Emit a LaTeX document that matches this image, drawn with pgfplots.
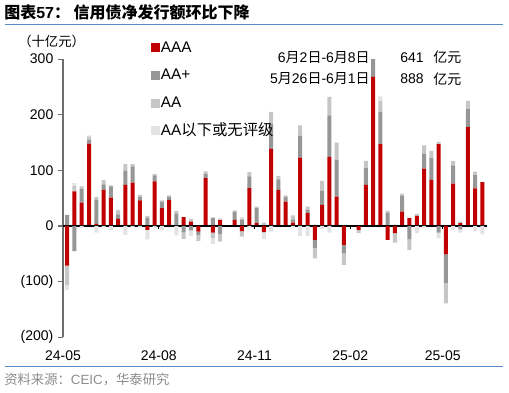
\documentclass[border=0pt]{standalone}
\usepackage{fontspec}
\setmainfont{Liberation Sans}
\newfontfamily\cjk{Noto Sans CJK SC}
\usepackage{pgfplots}
\pgfplotsset{compat=1.18}
\usepackage{pgfplotstable}
\definecolor{cA}{HTML}{C00000}
\definecolor{cB}{HTML}{969696}
\definecolor{cC}{HTML}{C6C6C6}
\definecolor{cD}{HTML}{E3E3E3}
\definecolor{tblue}{HTML}{5B8CC8}
\definecolor{axgray}{HTML}{6E6E6E}
\definecolor{srcgray}{HTML}{8C8C8C}

% d = days since 2024-05-01 (week end); a = AAA, b = AA+, c = AA, e = AA below / unrated (10 bn yuan)
\pgfplotstableread{
d a b c e
4 -71 20 -35 -9
11 62 -45 10 5
18 42 25 4 -3
25 148 7 5 3
32 4 43 5 -12
39 65 10 8 -3
46 51 20 2 -7
53 13 8 7 2
60 74 25 12 -16
67 78 29 4 -3
74 46 6 4 -3
81 -7 15 3 -17
88 80 11 2 -3
95 32 11 3 -8
102 47 6 2 0
109 0 22 5 -17
116 16 -11 -12 0
123 8 -8 5 -10
130 -10 -6 -11 2
137 86 8 4 0
144 -12 15 -10 -10
151 11 -15 -13 3
158 0 0 0 0
165 11 15 2 0
172 -9 12 -10 4
179 68 21 8 -3
186 5 27 3 0
193 -11 0 6 -12
200 139 45 21 -10
207 65 19 6 0
214 44 8 3 0
221 6 6 7 -3
228 123 39 19 -18
235 23 6 6 -18
242 -25 -15 -18 3
249 38 25 18 -5
256 124 75 33 -12
263 53 66 31 0
270 -34 -15 -21 0
277 0 0 0 0
284 -7 0 -6 2
291 74 30 13 0
298 268 32 0 0
305 147 58 20 8
312 -25 24 3 0
319 -13 0 -17 3
326 26 28 4 0
333 14 -24 -19 0
340 18 0 4 -13
347 103 27 15 -3
354 83 39 13 0
361 147 -12 4 -10
368 -51 -52 -36 0
375 76 33 8 -7
382 5 -6 3 -6
389 178 33 14 0
396 67.5 24 6 -8.7
403 79 0 0 -15
}\bonds

\pgfplotsset{common/.style={
  scale only axis, width=318pt, height=208.7pt,
  at={(47.25pt,-252.975pt)}, anchor=south west,
  xmin=0, xmax=407.5, ymin=-200, ymax=300,
  ybar stacked, bar width=3pt}}

\begin{document}
\begin{tikzpicture}
\path[use as bounding box] (0,0) rectangle (381.75pt,-294pt);

\begin{axis}[common,
  axis lines*=left,
  x axis line style={draw=none},
  y axis line style={draw=axgray, line width=0.8pt},
  xtick style={draw=none},
  ytick style={draw=axgray, line width=0.8pt},
  tick align=outside, major tick length=3.75pt,
  xtick={0,92,184,276,365},
  xticklabels={24-05,24-08,24-11,25-02,25-05},
  ytick={-200,-100,0,100,200,300},
  yticklabels={(200),(100),0,100,200,300},
  tick label style={font=\fontsize{10.5}{12}\selectfont},
  xticklabel style={yshift=-3pt},
  legend cell align=left,
  legend style={at={(0.2075,1.069)}, anchor=north west, draw=none, fill=none,
    font=\fontsize{11.5}{13}\selectfont, row sep=9pt, inner sep=0pt,
    nodes={inner sep=0.5pt, text height=8.5pt, text depth=2.3pt}},
  legend image code/.code={\fill[#1] (0pt,-3.2pt) rectangle (6.8pt,3.6pt);},
]
\addplot[fill=cA, draw=none] table[x=d, y expr={max(\thisrow{a},0)}] {\bonds};
\addplot[fill=cB, draw=none] table[x=d, y expr={max(\thisrow{b},0)}] {\bonds};
\addplot[fill=cC, draw=none] table[x=d, y expr={max(\thisrow{c},0)}] {\bonds};
\addplot[fill=cD, draw=none] table[x=d, y expr={max(\thisrow{e},0)}] {\bonds};
\legend{AAA, AA+, AA, AA{\cjk 以下或无评级}}
\end{axis}

\begin{axis}[common, hide axis]
\addplot[fill=cA, draw=none] table[x=d, y expr={min(\thisrow{a},0)}] {\bonds};
\addplot[fill=cB, draw=none] table[x=d, y expr={min(\thisrow{b},0)}] {\bonds};
\addplot[fill=cC, draw=none] table[x=d, y expr={min(\thisrow{c},0)}] {\bonds};
\addplot[fill=cD, draw=none] table[x=d, y expr={min(\thisrow{e},0)}] {\bonds};
\draw[black, line width=0.8pt] (axis cs:0,0) -- (axis cs:407.5,0);
\pgfplotsinvokeforeach{92,184,276,365}{\draw[black, line width=0.6pt] (axis cs:#1,0) -- (axis cs:#1,-5.5);}
\end{axis}

\begin{scope}[x=0.75pt, y=-0.75pt]
\node[anchor=west, inner sep=0pt, font=\fontsize{12}{14}\selectfont] at (4,12.5)
  {{\cjk\bfseries 图表}\textbf{57}{\cjk\bfseries ：\ 信用债净发行额环比下降}};
\draw[tblue, line width=0.8pt] (5,24.5) -- (503,24.5);
\node[anchor=west, inner sep=0pt, font=\fontsize{10}{12}\selectfont] at (18,41) {\cjk （十亿元）};
\node[anchor=east, inner sep=0pt, font=\fontsize{10.5}{12}\selectfont] at (370,57.5)
  {6{\cjk 月}2{\cjk 日}-6{\cjk 月}8{\cjk 日}};
\node[anchor=east, inner sep=0pt, font=\fontsize{10.5}{12}\selectfont] at (370,79)
  {5{\cjk 月}26{\cjk 日}-6{\cjk 月}1{\cjk 日}};
\node[anchor=west, inner sep=0pt, font=\fontsize{10.5}{12}\selectfont] at (400,57.5) {641};
\node[anchor=west, inner sep=0pt, font=\fontsize{10.5}{12}\selectfont] at (400,79) {888};
\node[anchor=west, inner sep=0pt, font=\fontsize{10.5}{12}\selectfont] at (433,57.5) {\cjk 亿元};
\node[anchor=west, inner sep=0pt, font=\fontsize{10.5}{12}\selectfont] at (433,79) {\cjk 亿元};
\draw[tblue, line width=0.8pt] (5,366.5) -- (503,366.5);
\node[anchor=west, inner sep=0pt, text=srcgray, font=\fontsize{10}{12}\selectfont] at (4,379.5)
  {{\cjk 资料来源：}CEIC{\cjk ，华泰研究}};
\end{scope}
\end{tikzpicture}
\end{document}
